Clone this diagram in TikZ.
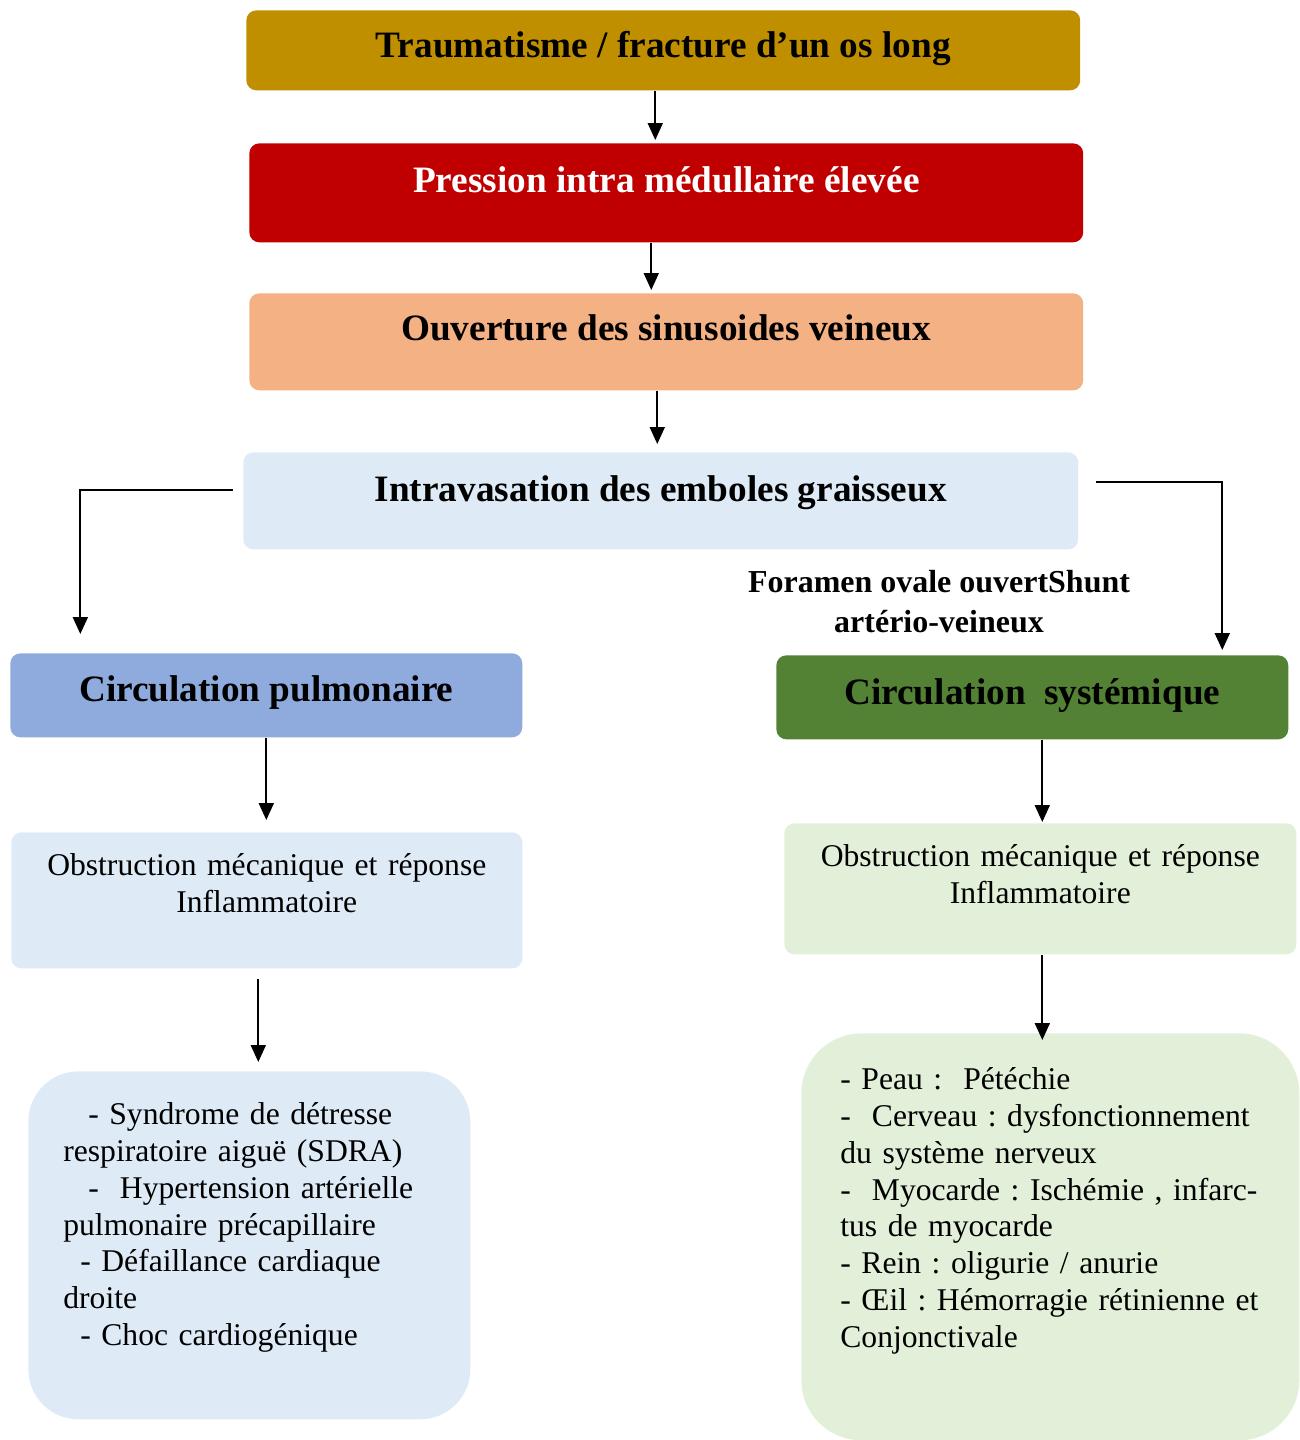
\documentclass[tikz,border=0pt]{standalone}
\usepackage{fontspec}
\setmainfont{Liberation Serif}
\usepackage{tikz}
\usetikzlibrary{arrows.meta}
\usetikzlibrary{positioning}
\definecolor{ocre}{HTML}{BF8F00}
\definecolor{rouge}{HTML}{C00000}
\definecolor{saumon}{HTML}{F4B183}
\definecolor{bleuclair}{HTML}{DEEBF7}
\definecolor{bleupulmo}{HTML}{8FAADC}
\definecolor{vertsyst}{HTML}{548235}
\definecolor{vertclair}{HTML}{E2F0D9}
\newcommand{\titre}{\fontsize{21.2}{25}\selectfont\bfseries}
\newcommand{\corps}{\fontsize{18}{21}\selectfont\frenchspacing}
\tikzset{
  boite/.style={anchor=north west, rounded corners=0.2cm, inner xsep=0pt, inner ysep=0pt, font=\titre},
  liste/.style={anchor=north west, inner ysep=0pt, align=left, font=\corps},
  fleche/.style={-{Triangle[length=0.34cm,width=0.3cm]}, line width=1.1pt, shorten >=0.1cm},
}

\begin{document}
\frenchspacing
\begin{tikzpicture}[x=0.02cm,y=-0.02cm]
  \useasboundingbox (0,0) rectangle (1300,1440);
  % Define nodes
  \node[boite, fill=ocre, minimum width=16.68cm, text height=0.94cm, text depth=0.66cm] (trauma) at (246,10) {Traumatisme / fracture d’un os long};
  \node[boite, fill=rouge, text=white, minimum width=16.68cm, text height=0.98cm, text depth=1.0cm] (pression) at (249,143) {Pression intra médullaire élevée};
  \node[boite, fill=saumon, minimum width=16.68cm, text height=0.94cm, text depth=1.0cm] (ouverture) at (249,293) {Ouverture des sinusoides veineux};
  \node[boite, fill=bleuclair, minimum width=16.7cm, text height=0.98cm, text depth=0.96cm] (intra) at (243,452) {Intravasation des emboles graisseux};
  \node[boite, fill=bleupulmo, minimum width=10.24cm, text height=0.96cm, text depth=0.72cm] (pulmo) at (10,653) {Circulation pulmonaire};
  \node[boite, fill=vertsyst, minimum width=10.24cm, text height=0.98cm, text depth=0.70cm] (syst) at (776,655) {Circulation\ \ systémique};
  \node[font={\fontsize{18.2}{22.8}\selectfont\bfseries}, align=center, inner sep=0pt] (shunt) at (939,602) {Foramen ovale ouvertShunt\\artério-veineux};
  \node[boite, font=\corps, fill=bleuclair, align=center, text width=10.22cm, text height=0.86cm, text depth=1.86cm] (obsg) at (11,832) {Obstruction mécanique et réponse\\Inflammatoire};
  \node[boite, font=\corps, fill=vertclair, align=center, text width=10.24cm, text height=0.86cm, text depth=1.76cm] (obsd) at (784,823) {Obstruction mécanique et réponse\\Inflammatoire};
  \node[liste, fill=bleuclair, rounded corners=1cm, inner xsep=0.7cm, text width=7.44cm, text height=1.06cm, text depth=5.9cm] (listeg) at (28,1071) {\hspace*{0.5cm}- Syndrome de détresse\\
    respiratoire aiguë (SDRA)\\
    \hspace*{0.5cm}-\ \ Hypertension artérielle\\
    pulmonaire précapillaire\\
    \hspace*{0.34cm}- Défaillance cardiaque\\
    droite\\
    \hspace*{0.34cm}- Choc cardiogénique};
  \node[liste, fill=vertclair, rounded corners=1.2cm, inner xsep=0.78cm, text width=8.4cm, text height=1.12cm, text depth=7.02cm] (listed) at (801,1033) {- Peau :\ \ Pétéchie\\
    -\ \ Cerveau : dysfonctionnement\\
    du système nerveux\\
    -\ \ Myocarde : Ischémie , infarc-\\
    tus de myocarde\\
    - Rein : oligurie / anurie\\
    - Œil : Hémorragie rétinienne et\\
    Conjonctivale};

  % Connect the nodes
  \draw[fleche, shorten >=0.06cm] ([xshift=-0.16cm]trauma.south) -- ([xshift=-0.16cm]trauma.south |- pression.north);
  \draw[fleche, shorten >=0.06cm] ([xshift=-0.3cm]pression.south) -- ([xshift=-0.3cm]pression.south |- ouverture.north);
  \draw[fleche, shorten >=0.16cm] ([xshift=-0.18cm]ouverture.south) -- ([xshift=-0.18cm]ouverture.south |- intra.north);
  \draw[fleche, shorten >=0.38cm] ([xshift=-0.2cm,yshift=0.22cm]intra.west) -| ([xshift=-3.72cm]pulmo.north);
  \draw[fleche] ([xshift=0.34cm,yshift=0.37cm]intra.east) -| ([xshift=3.8cm]syst.north);
  \draw[fleche, shorten >=0.24cm] (pulmo.south) -- (pulmo.south |- obsg.north);
  \draw[fleche, shorten <=0.2cm, shorten >=0.18cm] ([xshift=-0.17cm]obsg.south) -- ([xshift=-0.17cm]obsg.south |- listeg.north);
  \draw[fleche, shorten >=0.02cm] ([xshift=0.2cm]syst.south) -- ([xshift=0.2cm]syst.south |- obsd.north);
  \draw[fleche, shorten >=-0.14cm] ([xshift=0.04cm]obsd.south) -- ([xshift=0.04cm]obsd.south |- listed.north);
\end{tikzpicture}
\end{document}
